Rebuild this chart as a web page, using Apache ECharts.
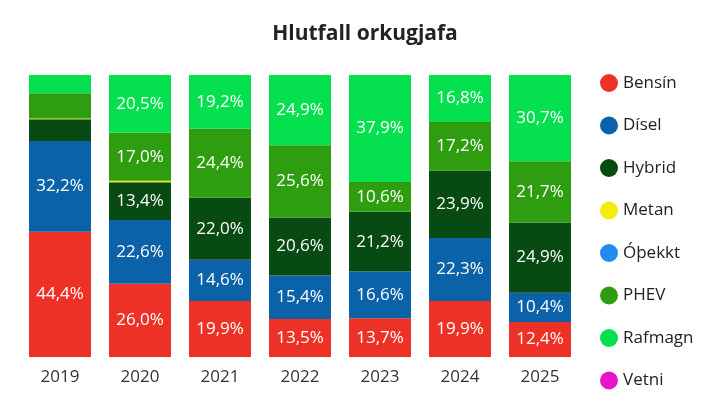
<!DOCTYPE html>
<html>
<head>
<meta charset="utf-8">
<script src="https://cdn.jsdelivr.net/npm/echarts@6/dist/echarts.min.js"></script>
<style>
  html, body { margin: 0; padding: 0; background: #fff; }
  #chart { width: 721px; height: 411px; }
</style>
</head>
<body>
<div id="chart"></div>
<script>
// years on the x axis
var years = ["2019", "2020", "2021", "2022", "2023", "2024", "2025"];

// share of each energy source, percent
var bensin  = [44.4, 26.0, 19.9, 13.5, 13.7, 19.9, 12.4];
var disel   = [32.2, 22.6, 14.6, 15.4, 16.6, 22.3, 10.4];
var hybrid  = [7.7, 13.4, 22.0, 20.6, 21.2, 23.9, 24.9];
var metan   = [0.3, 0.5, 0, 0, 0, 0, 0];
var othekkt = [0, 0, 0, 0, 0, 0, 0];
var phev    = [8.9, 17.0, 24.4, 25.6, 10.6, 17.2, 21.7];
var rafmagn = [6.5, 20.5, 19.2, 24.9, 37.9, 16.8, 30.7];
var vetni   = [0, 0, 0, 0, 0, 0, 0];

var names  = ["Bensín", "Dísel", "Hybrid", "Metan", "Óþekkt", "PHEV", "Rafmagn", "Vetni"];
var values = [bensin, disel, hybrid, metan, othekkt, phev, rafmagn, vetni];
var colors = ["#EE3127", "#0C62A8", "#074A12", "#F6EC0C", "#1F8CEE", "#2E9E10", "#05E04E", "#E615CA"];

var FONT = "'Open Sans', 'Noto Sans', sans-serif";

var chart = echarts.init(document.getElementById("chart"));

var series = names.map(function (n, i) {
  return {
    name: n,
    type: "bar",
    stack: "total",
    data: values[i],
    barCategoryGap: "22.5%",
    itemStyle: { color: colors[i] },
    label: {
      show: true,
      color: "#fff",
      fontFamily: FONT,
      fontSize: 17,
      formatter: function (p) {
        // small segments carry no label
        return p.value >= 10 ? p.value.toFixed(1).replace(".", ",") + "%" : "";
      }
    }
  };
});

chart.setOption({
  backgroundColor: "#fff",
  animation: false,
  color: colors,
  title: {
    text: "Hlutfall orkugjafa",
    left: 360,
    textAlign: "center",
    top: 19,
    textStyle: { fontFamily: FONT, fontSize: 21, fontWeight: "bold", color: "#222" }
  },
  legend: {
    orient: "vertical",
    left: 595,
    top: 69,
    itemGap: 24.5,
    itemWidth: 18,
    itemHeight: 18,
    icon: "circle",
    data: names,
    textStyle: { fontFamily: FONT, fontSize: 17, color: "#222" }
  },
  grid: { left: 20, right: 141, top: 75, bottom: 54 },
  xAxis: {
    type: "category",
    data: years,
    axisLine: { show: false },
    axisTick: { show: false },
    axisLabel: { fontFamily: FONT, fontSize: 17, color: "#333", margin: 12 }
  },
  yAxis: {
    type: "value",
    min: 0,
    max: 100,
    show: false
  },
  series: series
});
</script>
</body>
</html>
